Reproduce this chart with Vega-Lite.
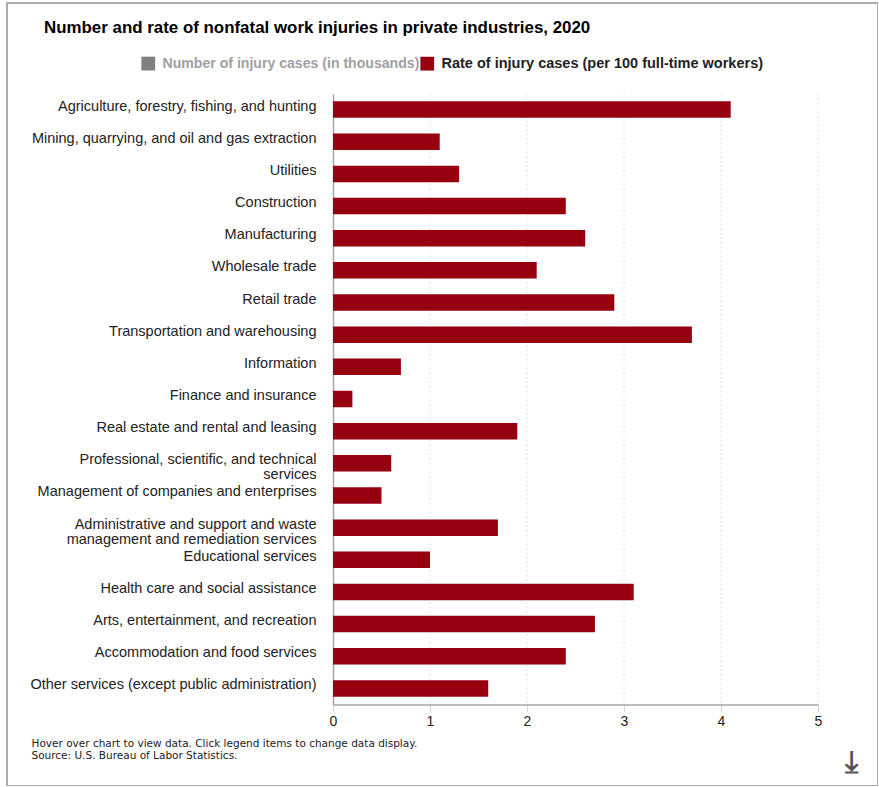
{
  "$schema": "https://vega.github.io/schema/vega-lite/v6.json",
  "autosize": "none",
  "padding": {"left": 7, "top": 3, "right": 0, "bottom": 0},
  "width": 871,
  "height": 783,
  "background": "white",
  "config": {
    "view": {"stroke": "#ababab", "strokeWidth": 2},
    "font": "Liberation Sans"
  },
  "title": {
    "text": "Number and rate of nonfatal work injuries in private industries, 2020",
    "anchor": "start",
    "frame": "group",
    "orient": "top",
    "dx": 37,
    "offset": -34,
    "font": "Liberation Sans",
    "fontSize": 16.9,
    "fontWeight": "bold",
    "color": "#000000"
  },
  "datasets": {
    "injuries": [
      {"industry": "Agriculture, forestry, fishing, and hunting", "series": "Rate of injury cases (per 100 full-time workers)", "rate": 4.1},
      {"industry": "Mining, quarrying, and oil and gas extraction", "series": "Rate of injury cases (per 100 full-time workers)", "rate": 1.1},
      {"industry": "Utilities", "series": "Rate of injury cases (per 100 full-time workers)", "rate": 1.3},
      {"industry": "Construction", "series": "Rate of injury cases (per 100 full-time workers)", "rate": 2.4},
      {"industry": "Manufacturing", "series": "Rate of injury cases (per 100 full-time workers)", "rate": 2.6},
      {"industry": "Wholesale trade", "series": "Rate of injury cases (per 100 full-time workers)", "rate": 2.1},
      {"industry": "Retail trade", "series": "Rate of injury cases (per 100 full-time workers)", "rate": 2.9},
      {"industry": "Transportation and warehousing", "series": "Rate of injury cases (per 100 full-time workers)", "rate": 3.7},
      {"industry": "Information", "series": "Rate of injury cases (per 100 full-time workers)", "rate": 0.7},
      {"industry": "Finance and insurance", "series": "Rate of injury cases (per 100 full-time workers)", "rate": 0.2},
      {"industry": "Real estate and rental and leasing", "series": "Rate of injury cases (per 100 full-time workers)", "rate": 1.9},
      {"industry": "Professional, scientific, and technical services", "series": "Rate of injury cases (per 100 full-time workers)", "rate": 0.6},
      {"industry": "Management of companies and enterprises", "series": "Rate of injury cases (per 100 full-time workers)", "rate": 0.5},
      {"industry": "Administrative and support and waste management and remediation services", "series": "Rate of injury cases (per 100 full-time workers)", "rate": 1.7},
      {"industry": "Educational services", "series": "Rate of injury cases (per 100 full-time workers)", "rate": 1.0},
      {"industry": "Health care and social assistance", "series": "Rate of injury cases (per 100 full-time workers)", "rate": 3.1},
      {"industry": "Arts, entertainment, and recreation", "series": "Rate of injury cases (per 100 full-time workers)", "rate": 2.7},
      {"industry": "Accommodation and food services", "series": "Rate of injury cases (per 100 full-time workers)", "rate": 2.4},
      {"industry": "Other services (except public administration)", "series": "Rate of injury cases (per 100 full-time workers)", "rate": 1.6}
    ],
    "gridlines": [
      {"tick": 1, "from": 0, "to": 1},
      {"tick": 2, "from": 0, "to": 1},
      {"tick": 3, "from": 0, "to": 1},
      {"tick": 4, "from": 0, "to": 1},
      {"tick": 5, "from": 0, "to": 1}
    ]
  },
  "layer": [
    {
      "data": {"name": "gridlines"},
      "mark": {"type": "rule", "color": "#d4d8e4", "strokeWidth": 1, "strokeDash": [1.5, 3]},
      "encoding": {
        "x": {
          "field": "tick",
          "type": "quantitative",
          "scale": {"domain": [0, 5], "range": [326, 811]},
          "axis": {
            "offset": -81.5,
            "values": [0, 1, 2, 3, 4, 5],
            "format": "d",
            "grid": false,
            "domainColor": "#a6a6a6",
            "domainWidth": 1.5,
            "tickColor": "#ccd6eb",
            "tickSize": 7,
            "labelColor": "#222222",
            "labelFontSize": 14,
            "labelPadding": 3,
            "labelFlush": false,
            "title": [
              "Hover over chart to view data. Click legend items to change data display.",
              "Source: U.S. Bureau of Labor Statistics."
            ],
            "titleFont": "DejaVu Sans",
            "titleFontSize": 10.5,
            "titleFontWeight": "normal",
            "titleColor": "#222222",
            "titleAlign": "left",
            "titleBaseline": "alphabetic",
            "titleLineHeight": 12.5,
            "titleAnchor": null,
            "titleX": 24,
            "titleY": 41.5
          }
        },
        "y": {"field": "from", "type": "quantitative", "scale": {"domain": [0, 1], "range": [90.5, 701.5]}, "axis": null},
        "y2": {"field": "to"}
      }
    },
    {
      "data": {"name": "injuries"},
      "mark": {"type": "bar", "height": 16.5},
      "encoding": {
        "x": {"field": "rate", "type": "quantitative"},
        "y": {
          "field": "industry",
          "type": "nominal",
          "sort": null,
          "scale": {"range": [90.5, 701.5], "paddingInner": 0, "paddingOuter": 0},
          "axis": {
            "offset": -326,
            "ticks": false,
            "grid": false,
            "domainColor": "#a6a6a6",
            "domainWidth": 1.5,
            "labelColor": "#222222",
            "labelFontSize": 14.5,
            "labelPadding": 17,
            "labelLimit": 320,
            "labelBaseline": "alphabetic",
            "labelOffset": 1,
            "labelLineHeight": 15,
            "labelExpr": "datum.label === 'Professional, scientific, and technical services' ? ['Professional, scientific, and technical', 'services'] : datum.label === 'Administrative and support and waste management and remediation services' ? ['Administrative and support and waste', 'management and remediation services'] : datum.label",
            "title": "⤓",
            "titleFont": "DejaVu Sans",
            "titleFontSize": 30,
            "titleFontWeight": "bold",
            "titleColor": "#555555",
            "titleAngle": 0,
            "titleAlign": "center",
            "titleBaseline": "middle",
            "titleAnchor": null,
            "titleX": 518,
            "titleY": 759
          }
        },
        "color": {
          "field": "series",
          "type": "nominal",
          "scale": {
            "domain": ["Number of injury cases (in thousands)", "Rate of injury cases (per 100 full-time workers)"],
            "range": ["#7f7f7f", "#96000f"]
          },
          "legend": {
            "orient": "none",
            "legendX": 134,
            "legendY": 53,
            "direction": "horizontal",
            "title": null,
            "symbolType": "square",
            "symbolSize": 190,
            "symbolStrokeWidth": 0,
            "labelFontSize": 14.5,
            "labelFontWeight": "bold",
            "labelLimit": 340,
            "labelOffset": 7,
            "columnPadding": 0,
            "encode": {
              "labels": {"update": {
                "fontSize": {"signal": "datum.label === 'Number of injury cases (in thousands)' ? 14.1 : 14.5"},
                "fill": {"signal": "datum.label === 'Number of injury cases (in thousands)' ? '#a0a0a0' : '#222222'"}
              }}
            }
          }
        }
      }
    }
  ],
  "resolve": {"scale": {"y": "independent"}}
}
